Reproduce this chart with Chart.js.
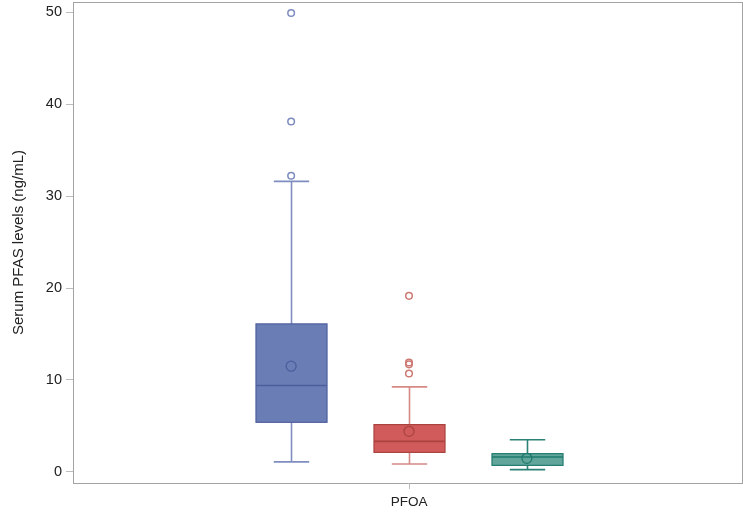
<!DOCTYPE html>
<html>
<head>
<meta charset="utf-8">
<script src="https://cdn.jsdelivr.net/npm/chart.js@4"></script>
<style>
  html, body { margin: 0; padding: 0; background: #fff; }
  #chart { display: block; }
</style>
</head>
<body>
<canvas id="chart" width="743" height="517"></canvas>
<script>
// box plot values (ng/mL)
const categoryLabel = 'PFOA';
const boxMin    = [1.1, 0.87, 0.25];
const boxQ1     = [5.4, 2.13, 0.72];
const boxMedian = [9.4, 3.33, 1.63];
const boxQ3     = [16.1, 5.15, 1.99];
const boxMax    = [31.6, 9.25, 3.51];
const boxMean   = [11.5, 4.42, 1.48];
const outliers  = [[32.2, 38.1, 49.9], [10.7, 11.7, 11.9, 19.15], []];
const yTicks    = [0, 10, 20, 30, 40, 50];

// styles
const fillColors    = ['#6b7db5', '#d15b5b', '#62a69b'];
const lineColors    = ['#4d5e9e', '#a9433e', '#1f7a6d'];
const whiskerColors = ['#7f8dc0', '#d58a85', '#2c8276'];
const outlierColors = ['#7d8bbf', '#cd7a74', '#2c8276'];
const groupGap = 0.1754;   // x offset between groups
const boxWidth = 0.1057;
const capWidth = 0.0527;
const fontFamily = 'Liberation Sans, Arial, sans-serif';

const groupX = i => 0.5 + (i - 1) * groupGap;

const datasets = [];
for (let i = 0; i < boxMedian.length; i++) {
    datasets.push({
        data: outliers[i].map(v => ({x: groupX(i), y: v})),
        pointStyle: 'circle',
        pointRadius: 3.3,
        pointBorderWidth: 1.5,
        pointBorderColor: outlierColors[i],
        pointBackgroundColor: 'rgba(0,0,0,0)'
    });
    datasets.push({
        data: [{x: groupX(i), y: boxMean[i]}],
        pointStyle: 'circle',
        pointRadius: 5,
        pointBorderWidth: 1.3,
        pointBorderColor: lineColors[i],
        pointBackgroundColor: 'rgba(0,0,0,0)'
    });
}

const boxPlugin = {
    id: 'boxes',
    beforeDatasetsDraw(chart) {
        const ctx = chart.ctx;
        const xs = chart.scales.x, ys = chart.scales.y;
        ctx.save();
        for (let i = 0; i < boxMedian.length; i++) {
            const cx = Math.round(xs.getPixelForValue(groupX(i))) + 0.5;
            const hw = xs.getPixelForValue(groupX(i) + boxWidth / 2) - xs.getPixelForValue(groupX(i));
            const cw = xs.getPixelForValue(groupX(i) + capWidth / 2) - xs.getPixelForValue(groupX(i));
            const yMin = ys.getPixelForValue(boxMin[i]);
            const yQ1 = ys.getPixelForValue(boxQ1[i]);
            const yMed = ys.getPixelForValue(boxMedian[i]);
            const yQ3 = ys.getPixelForValue(boxQ3[i]);
            const yMax = ys.getPixelForValue(boxMax[i]);

            // whiskers
            ctx.strokeStyle = whiskerColors[i];
            ctx.lineWidth = 1.6;
            ctx.beginPath();
            ctx.moveTo(cx, yQ3); ctx.lineTo(cx, yMax);
            ctx.moveTo(cx, yQ1); ctx.lineTo(cx, yMin);
            ctx.moveTo(cx - cw, yMax); ctx.lineTo(cx + cw, yMax);
            ctx.moveTo(cx - cw, yMin); ctx.lineTo(cx + cw, yMin);
            ctx.stroke();

            // box
            ctx.fillStyle = fillColors[i];
            ctx.fillRect(cx - hw, yQ3, hw * 2, yQ1 - yQ3);
            ctx.strokeStyle = lineColors[i];
            ctx.lineWidth = 1.2;
            ctx.strokeRect(cx - hw, yQ3, hw * 2, yQ1 - yQ3);

            // median
            ctx.lineWidth = 1.6;
            ctx.beginPath();
            ctx.moveTo(cx - hw, yMed); ctx.lineTo(cx + hw, yMed);
            ctx.stroke();
        }
        ctx.restore();
    },
    afterDraw(chart) {
        // top and right sides of the frame
        const a = chart.chartArea, ctx = chart.ctx;
        ctx.save();
        ctx.strokeStyle = '#a3a3a3';
        ctx.lineWidth = 1;
        ctx.beginPath();
        ctx.moveTo(a.left, a.top + 0.5); ctx.lineTo(a.right, a.top + 0.5);
        ctx.moveTo(a.right - 0.5, a.top); ctx.lineTo(a.right - 0.5, a.bottom);
        ctx.stroke();
        ctx.restore();
    }
};

const config = {
    type: 'scatter',
    data: { datasets },
    plugins: [boxPlugin],
    options: {
        responsive: false,
        animation: false,
        layout: { autoPadding: false, padding: { top: 2, right: 0, left: 0, bottom: 0 } },
        plugins: { legend: { display: false }, tooltip: { enabled: false } },
        scales: {
            x: {
                type: 'linear',
                min: 0,
                max: 0.997,
                afterBuildTicks: s => { s.ticks = [{value: 0.5}]; },
                afterFit: s => { s.height = 34; s.paddingLeft = 0; s.paddingRight = 0; },
                ticks: {
                    callback: () => categoryLabel,
                    color: '#222',
                    font: { family: fontFamily, size: 13.5 },
                    padding: 5,
                    maxRotation: 0
                },
                grid: { drawOnChartArea: false, drawTicks: true, tickLength: 6, color: '#bdbdbd' },
                border: { color: '#a3a3a3' }
            },
            y: {
                type: 'linear',
                min: -1.2,
                max: 51.1,
                afterBuildTicks: s => { s.ticks = yTicks.map(v => ({value: v})); },
                afterFit: s => { s.width = 73; s.paddingTop = 0; s.paddingBottom = 0; },
                ticks: {
                    color: '#222',
                    font: { family: fontFamily, size: 14.5 },
                    padding: 4
                },
                title: {
                    display: true,
                    text: 'Serum PFAS levels (ng/mL)',
                    color: '#222',
                    font: { family: fontFamily, size: 15 },
                    padding: { top: 10, bottom: 0 }
                },
                grid: { drawOnChartArea: false, drawTicks: true, tickLength: 7, color: '#bdbdbd' },
                border: { color: '#a3a3a3' }
            }
        }
    }
};

new Chart(document.getElementById('chart'), config);
</script>
</body>
</html>
